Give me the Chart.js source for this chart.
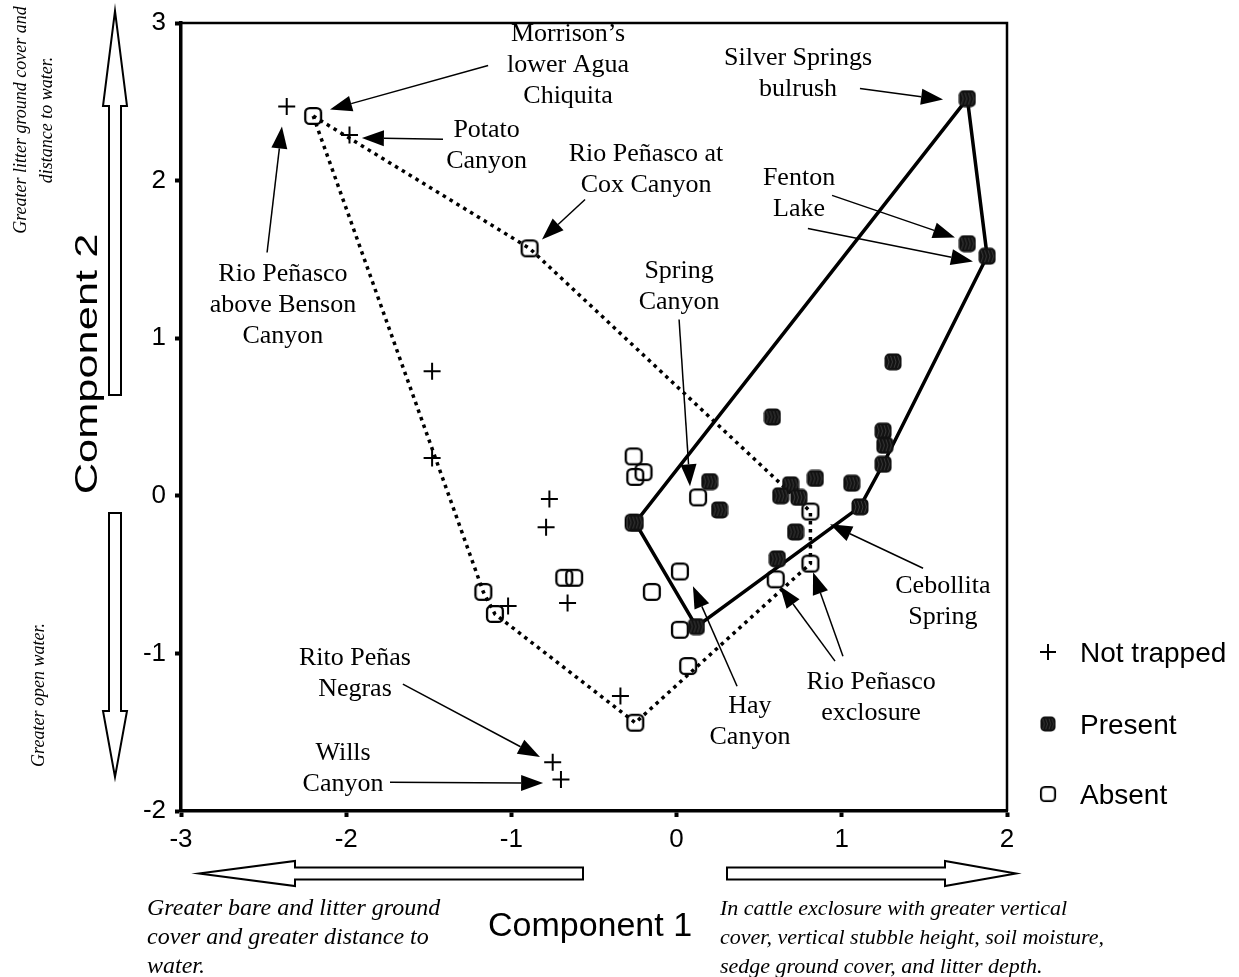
<!DOCTYPE html>
<html>
<head>
<meta charset="utf-8">
<script src="https://cdn.jsdelivr.net/npm/chart.js@4.4.1/dist/chart.umd.min.js"></script>
<style>
  html, body { margin: 0; padding: 0; background: #fff; }
  canvas { display: block; }
</style>
</head>
<body>
<canvas id="pcaChart" width="1239" height="977"></canvas>
<script>
// site scores on component 1 (x) and component 2 (y)
const notTrappedX = [-2.36, -1.98, -1.48, -1.48, -0.77, -0.79, -1.02, -0.66, -0.34, -0.75, -0.70];
const notTrappedY = [2.47, 2.29, 0.79, 0.24, -0.02, -0.20, -0.70, -0.68, -1.27, -1.69, -1.80];

const presentX = [1.76, 1.76, 1.88, 1.31, 0.58, 1.25, 1.26, 1.25, 0.20, 0.84, 1.06, 0.69, 0.63, 0.74, 0.26, 1.11, -0.25, 0.72, 0.61, 0.12];
const presentY = [2.52, 1.60, 1.52, 0.85, 0.50, 0.41, 0.32, 0.20, 0.09, 0.11, 0.08, 0.07, 0.00, -0.01, -0.09, -0.07, -0.17, -0.23, -0.40, -0.83];

const absentX = [-2.20, -0.89, -0.26, -0.20, -0.25, 0.13, 0.81, -0.26, 0.81, 0.02, 0.60, -0.15, 0.02, 0.07, -0.25, -1.17, -1.10, -0.68, -0.62];
const absentY = [2.41, 1.57, 0.25, 0.15, 0.12, -0.01, -0.10, -0.17, -0.43, -0.48, -0.53, -0.61, -0.85, -1.08, -1.44, -0.61, -0.75, -0.52, -0.52];

// hull outlines (closed)
const absentHullX = [-2.20, -0.89, 0.81, 0.81, -0.25, -1.10, -1.17, -2.20];
const absentHullY = [2.41, 1.57, -0.10, -0.43, -1.44, -0.75, -0.61, 2.41];
const presentHullX = [1.76, 1.88, 1.25, 1.11, 0.12, -0.25, 1.76];
const presentHullY = [2.52, 1.52, 0.20, -0.07, -0.83, -0.17, 2.52];

const xTicks = [-3, -2, -1, 0, 1, 2];
const yTicks = [-2, -1, 0, 1, 2, 3];
const seriesNames = ['Not trapped', 'Present', 'Absent'];

const serif = "'Liberation Serif', 'Times New Roman', serif";
const sans = "'Liberation Sans', Arial, sans-serif";

const zip = (xs, ys) => xs.map((x, i) => ({ x: x, y: ys[i] }));

// site name callouts: label centre and arrows, in data units
const callouts = [
    { lines: ['Morrison\u2019s', 'lower Agua', 'Chiquita'], at: [-0.657, 2.730], arrows: [[-1.141, 2.730, -2.098, 2.451]] },
    { lines: ['Potato', 'Canyon'], at: [-1.150, 2.223], arrows: [[-1.414, 2.263, -1.905, 2.270]] },
    { lines: ['Rio Pe\u00f1asco at', 'Cox Canyon'], at: [-0.185, 2.070], arrows: [[-0.554, 1.880, -0.815, 1.627]] },
    { lines: ['Rio Pe\u00f1asco', 'above Benson', 'Canyon'], at: [-2.383, 1.208], arrows: [[-2.479, 1.544, -2.389, 2.343]] },
    { lines: ['Silver Springs', 'bulrush'], at: [0.735, 2.679], arrows: [[1.110, 2.584, 1.613, 2.514]] },
    { lines: ['Fenton', 'Lake'], at: [0.741, 1.918], arrows: [[0.941, 1.906, 1.685, 1.639], [0.795, 1.696, 1.794, 1.487]] },
    { lines: ['Spring', 'Canyon'], at: [0.015, 1.325], arrows: [[0.015, 1.119, 0.081, 0.060]] },
    { lines: ['Cebollita', 'Spring'], at: [1.612, -0.672], arrows: [[1.492, -0.460, 0.929, -0.181]] },
    { lines: ['Rio Pe\u00f1asco', 'exclosure'], at: [1.177, -1.278], arrows: [[0.959, -1.049, 0.626, -0.574], [1.007, -1.018, 0.826, -0.485]] },
    { lines: ['Hay', 'Canyon'], at: [0.444, -1.433], arrows: [[0.366, -1.208, 0.099, -0.574]] },
    { lines: ['Rito Pe\u00f1as', 'Negras'], at: [-1.947, -1.126], arrows: [[-1.657, -1.195, -0.827, -1.658]] },
    { lines: ['Wills', 'Canyon'], at: [-2.019, -1.731], arrows: [[-1.735, -1.817, -0.808, -1.823]] }
];

function roundRect(g, x, y, w, h, r) {
    g.beginPath();
    g.moveTo(x + r, y);
    g.arcTo(x + w, y, x + w, y + h, r);
    g.arcTo(x + w, y + h, x, y + h, r);
    g.arcTo(x, y + h, x, y, r);
    g.arcTo(x, y, x + w, y, r);
    g.closePath();
}

// dark hatched marker
const filledMark = document.createElement('canvas');
filledMark.width = 18; filledMark.height = 18;
(function () {
    const g = filledMark.getContext('2d');
    roundRect(g, 0.5, 0.5, 17, 17, 5);
    g.fillStyle = '#111';
    g.fill();
    g.strokeStyle = '#3c3c3c';
    g.lineWidth = 1;
    [4, 7.5, 11, 14.5].forEach(x => {
        g.beginPath();
        g.moveTo(x - 1, 3); g.lineTo(x + 1, 9); g.lineTo(x - 1, 15);
        g.stroke();
    });
})();

// open rounded square
const openMark = document.createElement('canvas');
openMark.width = 20; openMark.height = 20;
(function () {
    const g = openMark.getContext('2d');
    roundRect(g, 2.1, 2.1, 15.8, 15.8, 4.5);
    g.strokeStyle = '#000';
    g.lineWidth = 2.3;
    g.stroke();
})();

function drawArrow(ctx, x1, y1, x2, y2) {
    const ang = Math.atan2(y2 - y1, x2 - x1);
    const hl = 22, hw = 8;
    const bx = x2 - hl * Math.cos(ang), by = y2 - hl * Math.sin(ang);
    ctx.beginPath();
    ctx.moveTo(x1, y1);
    ctx.lineTo(bx, by);
    ctx.stroke();
    ctx.beginPath();
    ctx.moveTo(x2, y2);
    ctx.lineTo(bx + hw * Math.sin(ang), by - hw * Math.cos(ang));
    ctx.lineTo(bx - hw * Math.sin(ang), by + hw * Math.cos(ang));
    ctx.closePath();
    ctx.fill();
}

function hollowArrow(ctx, x1, y1, x2, y2, shaft, head, headLen) {
    const len = Math.hypot(x2 - x1, y2 - y1);
    const ang = Math.atan2(y2 - y1, x2 - x1);
    const s = shaft / 2, h = head / 2, b = len - headLen;
    ctx.save();
    ctx.translate(x1, y1);
    ctx.rotate(ang);
    ctx.beginPath();
    ctx.moveTo(0, -s); ctx.lineTo(b, -s); ctx.lineTo(b, -h); ctx.lineTo(len, 0);
    ctx.lineTo(b, h); ctx.lineTo(b, s); ctx.lineTo(0, s);
    ctx.closePath();
    ctx.fillStyle = '#fff';
    ctx.fill();
    ctx.lineWidth = 2;
    ctx.strokeStyle = '#000';
    ctx.stroke();
    ctx.restore();
}

function rotatedText(ctx, text, x, y, font, stretch) {
    ctx.save();
    ctx.translate(x, y);
    ctx.rotate(-Math.PI / 2);
    ctx.scale(stretch || 1, 1);
    ctx.font = font;
    ctx.textAlign = 'center';
    ctx.textBaseline = 'middle';
    ctx.fillText(text, 0, 0);
    ctx.restore();
}

const decorations = {
    id: 'decorations',
    afterDraw(chart) {
        const ctx = chart.ctx;
        const xs = chart.scales.x, ys = chart.scales.y;
        const area = chart.chartArea;
        ctx.save();

        // top and right frame
        ctx.strokeStyle = '#000';
        ctx.lineWidth = 2.5;
        ctx.beginPath();
        ctx.moveTo(area.left, area.top);
        ctx.lineTo(area.right, area.top);
        ctx.lineTo(area.right, area.bottom);
        ctx.stroke();

        // callouts
        ctx.fillStyle = '#000';
        ctx.lineWidth = 1.5;
        ctx.font = '26px ' + serif;
        ctx.textAlign = 'center';
        ctx.textBaseline = 'middle';
        callouts.forEach(c => {
            const cx = xs.getPixelForValue(c.at[0]);
            const cy = ys.getPixelForValue(c.at[1]);
            const n = c.lines.length;
            c.lines.forEach((t, i) => ctx.fillText(t, cx, cy + (i - (n - 1) / 2) * 31));
            c.arrows.forEach(a => drawArrow(ctx,
                xs.getPixelForValue(a[0]), ys.getPixelForValue(a[1]),
                xs.getPixelForValue(a[2]), ys.getPixelForValue(a[3])));
        });

        // direction arrows
        hollowArrow(ctx, 115, 395, 115, 11, 12, 24, 95);
        hollowArrow(ctx, 115, 513, 115, 777, 12, 24, 66);
        hollowArrow(ctx, 583, 873.5, 199, 873.5, 12, 25, 96);
        hollowArrow(ctx, 727, 873.5, 1016, 873.5, 12, 25, 71);

        // axis titles
        ctx.fillStyle = '#000';
        ctx.font = '34px ' + sans;
        ctx.textAlign = 'center';
        ctx.textBaseline = 'middle';
        ctx.fillText('Component 1', 590, 927);
        rotatedText(ctx, 'Component 2', 88, 364, '31px ' + sans, 1.4);

        // interpretation notes
        const it = 'italic 18px ' + serif;
        rotatedText(ctx, 'Greater litter ground cover and', 21, 120, it);
        rotatedText(ctx, 'distance to water.', 47, 120, it);
        rotatedText(ctx, 'Greater open water.', 39, 695, it);

        ctx.textAlign = 'left';
        ctx.font = 'italic 24px ' + serif;
        ['Greater bare and litter ground', 'cover and greater distance to', 'water.']
            .forEach((t, i) => ctx.fillText(t, 147, 909 + i * 29));
        ctx.font = 'italic 22px ' + serif;
        ['In cattle exclosure with greater vertical', 'cover, vertical stubble height, soil moisture,', 'sedge ground cover, and litter depth.']
            .forEach((t, i) => ctx.fillText(t, 720, 909 + i * 29));

        // legend
        ctx.font = '28px ' + sans;
        ctx.lineWidth = 2;
        ctx.beginPath();
        ctx.moveTo(1040, 652); ctx.lineTo(1056, 652);
        ctx.moveTo(1048, 644); ctx.lineTo(1048, 660);
        ctx.stroke();
        ctx.drawImage(filledMark, 1040, 716, 16, 16);
        ctx.drawImage(openMark, 1039, 785, 18, 18);
        ctx.fillText(seriesNames[0], 1080, 654);
        ctx.fillText(seriesNames[1], 1080, 726);
        ctx.fillText(seriesNames[2], 1080, 796);

        ctx.restore();
    }
};

const axisGrid = {
    display: true,
    drawOnChartArea: false,
    drawTicks: true,
    tickLength: 6,
    tickWidth: 4,
    tickColor: '#000',
    color: '#000'
};

new Chart(document.getElementById('pcaChart'), {
    type: 'scatter',
    data: {
        datasets: [
            {
                label: seriesNames[0],
                data: zip(notTrappedX, notTrappedY),
                pointStyle: 'cross',
                pointRadius: 8.5,
                borderColor: '#000',
                borderWidth: 2,
                order: 1
            },
            {
                label: seriesNames[1],
                data: zip(presentX, presentY),
                pointStyle: filledMark,
                order: 0
            },
            {
                label: seriesNames[2],
                data: zip(absentX, absentY),
                pointStyle: openMark,
                order: 2
            },
            {
                label: 'Absent hull',
                data: zip(absentHullX, absentHullY),
                showLine: true,
                pointRadius: 0,
                borderColor: '#000',
                borderWidth: 3.5,
                borderDash: [3.5, 4.5],
                order: 5
            },
            {
                label: 'Present hull',
                data: zip(presentHullX, presentHullY),
                showLine: true,
                pointRadius: 0,
                borderColor: '#000',
                borderWidth: 3.5,
                order: 4
            }
        ]
    },
    options: {
        responsive: false,
        animation: false,
        layout: { padding: { top: 23, right: 232, left: 0, bottom: 0 } },
        plugins: {
            legend: { display: false },
            tooltip: { enabled: false }
        },
        scales: {
            x: {
                type: 'linear',
                min: -3,
                max: 2,
                afterBuildTicks: s => { s.ticks = xTicks.map(v => ({ value: v })); },
                ticks: { color: '#000', font: { family: sans, size: 26 }, padding: 7 },
                grid: axisGrid,
                border: { display: true, color: '#000', width: 3.5 },
                afterFit: s => { s.height = 166; s.paddingLeft = 0; s.paddingRight = 0; }
            },
            y: {
                type: 'linear',
                min: -2,
                max: 3,
                afterBuildTicks: s => { s.ticks = yTicks.map(v => ({ value: v })); },
                ticks: { color: '#000', font: { family: sans, size: 26 }, padding: 9 },
                grid: axisGrid,
                border: { display: true, color: '#000', width: 3.5 },
                afterFit: s => { s.width = 181; s.paddingTop = 0; s.paddingBottom = 0; }
            }
        }
    },
    plugins: [decorations]
});
</script>
</body>
</html>
